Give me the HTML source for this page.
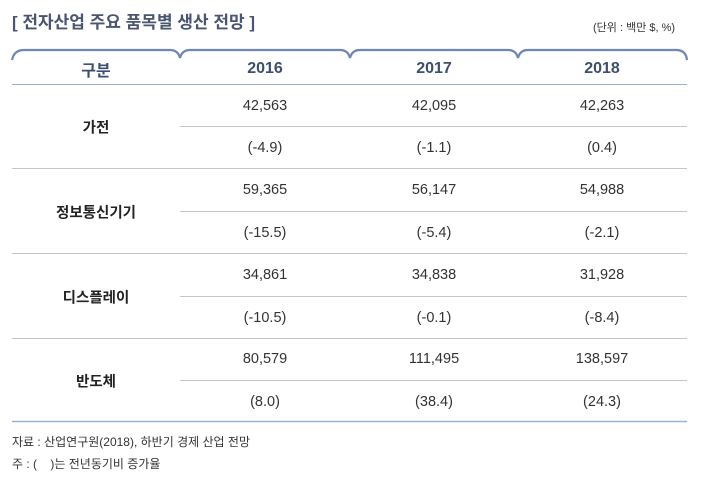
<!DOCTYPE html>
<html><head><meta charset="utf-8"><style>
body{margin:0;width:703px;height:481px;background:#fff;position:relative;overflow:hidden;font-family:"Liberation Sans","Noto Sans CJK KR",sans-serif;}
.t{position:absolute;white-space:nowrap;}
.c{position:absolute;text-align:center;transform:translate(-50%,-50%);white-space:nowrap;font-size:14.5px;color:#333;}
.h{font-weight:bold;color:#3d4f6e;font-size:16px;}
.l{font-weight:bold;color:#222;font-size:14.5px;}
.ln{position:absolute;height:1px;background:#c4c4c4;}
</style></head><body>
<div class="t" style="left:12px;top:8px;font-size:17px;font-weight:bold;color:#4a5670;">[ 전자산업 주요 품목별 생산 전망 ]</div>
<div class="t" style="left:593px;top:19px;font-size:11px;color:#333;">(단위 : 백만 $, %)</div>
<svg style="position:absolute;left:0;top:0" width="703" height="481">
<path d="M12 60 Q14 50 24 50 L170 50 Q178 50 180 58 Q182 50 190 50 L340 50 Q348 50 350 58 Q352 50 360 50 L508 50 Q516 50 518 58 Q520 50 528 50 L676 50 Q686 50 687 60" fill="none" stroke="#6e86b8" stroke-width="2.2"/>
<line x1="12" y1="84.5" x2="687" y2="84.5" stroke="#9db0d4" stroke-width="1"/>
<line x1="12" y1="421.5" x2="687" y2="421.5" stroke="#9db0d4" stroke-width="1.5"/>
</svg>
<div class="ln" style="left:180px;width:507px;top:126px"></div>
<div class="ln" style="left:12px;width:675px;top:168px"></div>
<div class="ln" style="left:180px;width:507px;top:211px"></div>
<div class="ln" style="left:12px;width:675px;top:253px"></div>
<div class="ln" style="left:180px;width:507px;top:296px"></div>
<div class="ln" style="left:12px;width:675px;top:338px"></div>
<div class="ln" style="left:180px;width:507px;top:380px"></div>

<div class="c h" style="left:96px;top:69px">구분</div>
<div class="c h" style="left:265px;top:69px">2016</div>
<div class="c h" style="left:434px;top:69px">2017</div>
<div class="c h" style="left:602px;top:69px">2018</div>

<div class="c l" style="left:96px;top:127px">가전</div>
<div class="c l" style="left:96px;top:212px">정보통신기기</div>
<div class="c l" style="left:96px;top:297px">디스플레이</div>
<div class="c l" style="left:96px;top:381px">반도체</div>

<div class="c" style="left:265px;top:106px">42,563</div><div class="c" style="left:434px;top:106px">42,095</div><div class="c" style="left:602px;top:106px">42,263</div>
<div class="c" style="left:265px;top:148px">(-4.9)</div><div class="c" style="left:434px;top:148px">(-1.1)</div><div class="c" style="left:602px;top:148px">(0.4)</div>
<div class="c" style="left:265px;top:190px">59,365</div><div class="c" style="left:434px;top:190px">56,147</div><div class="c" style="left:602px;top:190px">54,988</div>
<div class="c" style="left:265px;top:233px">(-15.5)</div><div class="c" style="left:434px;top:233px">(-5.4)</div><div class="c" style="left:602px;top:233px">(-2.1)</div>
<div class="c" style="left:265px;top:275px">34,861</div><div class="c" style="left:434px;top:275px">34,838</div><div class="c" style="left:602px;top:275px">31,928</div>
<div class="c" style="left:265px;top:318px">(-10.5)</div><div class="c" style="left:434px;top:318px">(-0.1)</div><div class="c" style="left:602px;top:318px">(-8.4)</div>
<div class="c" style="left:265px;top:359px">80,579</div><div class="c" style="left:434px;top:359px">111,495</div><div class="c" style="left:602px;top:359px">138,597</div>
<div class="c" style="left:265px;top:402px">(8.0)</div><div class="c" style="left:434px;top:402px">(38.4)</div><div class="c" style="left:602px;top:402px">(24.3)</div>

<div class="t" style="left:12px;top:433px;font-size:12px;color:#333;">자료 : 산업연구원(2018), 하반기 경제 산업 전망</div>
<div class="t" style="left:12px;top:455px;font-size:12px;color:#333;">주 : (&nbsp;&nbsp;&nbsp;&nbsp;)는 전년동기비 증가율</div>
</body></html>
